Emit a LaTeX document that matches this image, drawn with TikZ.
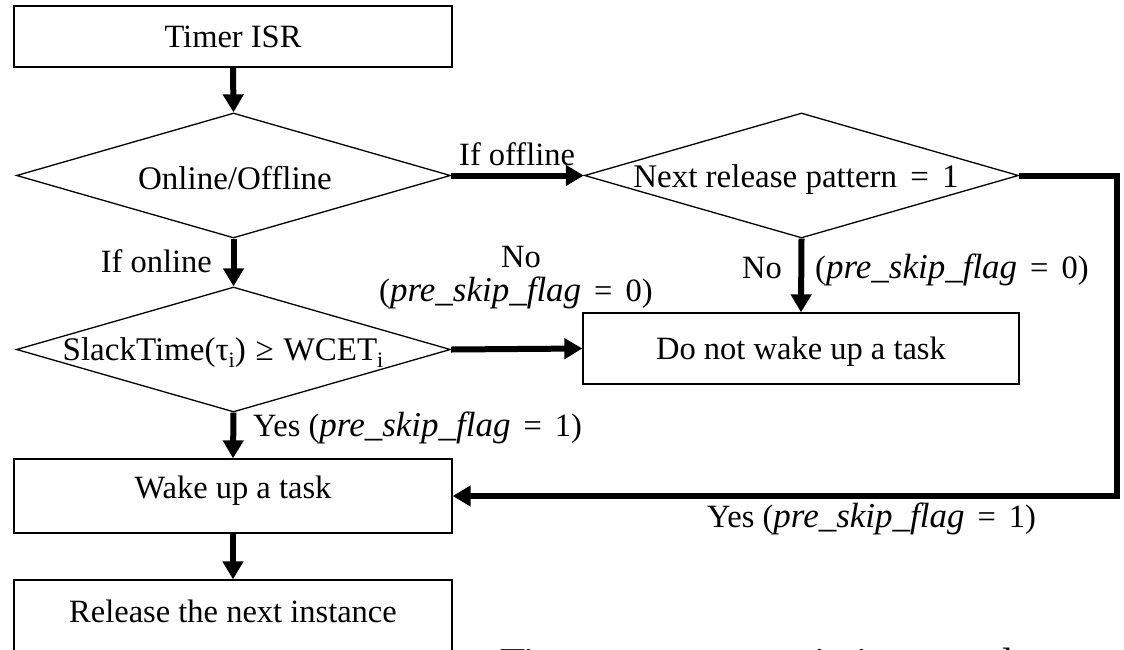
\documentclass[tikz,border=0pt]{standalone}
\usepackage{fontspec}
\setmainfont{Liberation Serif}
\usetikzlibrary{shapes.geometric,arrows.meta}

% text sizes
\newcommand\mainsz{\fontsize{32.5pt}{37pt}\selectfont}
\newcommand\condsz{\fontsize{33pt}{38pt}\selectfont}
\newcommand\bigsz{\fontsize{41pt}{48pt}\selectfont}
% the flag variable, set in italics
\newcommand\flagvar{{\fontsize{35pt}{38pt}\selectfont\textit{pre\_skip\_flag}}}
% gap around relation signs
\newcommand\eqgap{\hspace{0.4em}}
% lowered index i
\newcommand\lowi{\raisebox{-0.22em}{\fontsize{22pt}{22pt}\selectfont i}}

\tikzset{
  box/.style={draw=black, line width=1.3pt, rectangle, inner sep=0pt,
              text height=22pt, text depth=0pt},
  decision/.style={draw=black, line width=1.3pt, diamond, inner sep=0pt,
                   minimum width=434pt, minimum height=125pt},
  txt/.style={inner sep=0pt, anchor=base, font=\condsz},
  lbl/.style={inner sep=0pt, anchor=base west},
  lblr/.style={inner sep=0pt, anchor=base east},
  flow/.style={line width=6pt, line join=miter,
               -{Triangle[width=20pt,length=18pt]}}
}

\begin{document}
\begin{tikzpicture}[x=1pt, y=-1pt, font=\mainsz]
  \useasboundingbox (0,0) rectangle (1124,649);
  \fill[white] (0,0) rectangle (1124,649);
  \clip (0,0) rectangle (1124,649);

  % process boxes
  \node[box, minimum width=438pt, minimum height=61pt] (isr) at (233,36.5) {Timer ISR};
  \node[box, minimum width=436pt, minimum height=71pt] (nowake) at (801,348.5) {Do not wake up a task};
  \node[box, minimum width=438pt, minimum height=74pt, text depth=18pt] (wake) at (233,496) {Wake up a task};
  \node[box, minimum width=438pt, minimum height=100pt, text depth=38pt] (release) at (233,630) {Release the next instance};

  % decisions
  \node[decision] (d1) at (233.5,175.5) {};
  \node[txt] (t1) at (235,189) {Online/Offline};
  \node[decision] (d2) at (233.5,349.5) {};
  \node[txt] (t2) at (223,360) {SlackTime(τ\lowi)\hspace{0.3em}≥\hspace{0.3em}WCET\lowi};
  \node[decision] (d3) at (801.5,175.5) {};
  \node[txt] (t3) at (796,187) {Next release pattern\eqgap=\eqgap1};

  % connectors
  \draw[flow] (isr.south) -- (d1.north);
  \draw[flow] (d1.east) -- (d3.west);
  \draw[flow] (d1.south) -- (d2.north);
  \draw[flow] (d2.east) -- (nowake.west);
  \draw[flow] (d3.south) -- (nowake.north);
  \draw[flow] (d2.south) -- (wake.north);
  \coordinate (bend) at (1117,175.5);
  \draw[flow] (d3.east) -- (bend) |- (wake.east);
  \draw[flow] (wake.south) -- (release.north);

  % branch labels
  \node[lbl] (loff) at (459,165) {If offline};
  \node[lblr] (lon) at (212,272) {If online};
  \node[lbl] (lno1) at (501,267) {No};
  \node[lbl] (lflag1) at (379,301) {(\flagvar\eqgap=\eqgap0)};
  \node[lblr] (lno2) at (782,278) {No};
  \node[lbl] (lflag2) at (815,278) {(\flagvar\eqgap=\eqgap0)};
  \node[lbl] (lyes1) at (253,436) {Yes (\flagvar\eqgap=\eqgap1)};
  \node[lbl] (lyes2) at (707,527) {Yes (\flagvar\eqgap=\eqgap1)};

  % running text below the chart, cut by the page edge
  \node[lbl, font=\bigsz] (below) at (500,676) {Timer occurs once in its own slot};
\end{tikzpicture}
\end{document}
